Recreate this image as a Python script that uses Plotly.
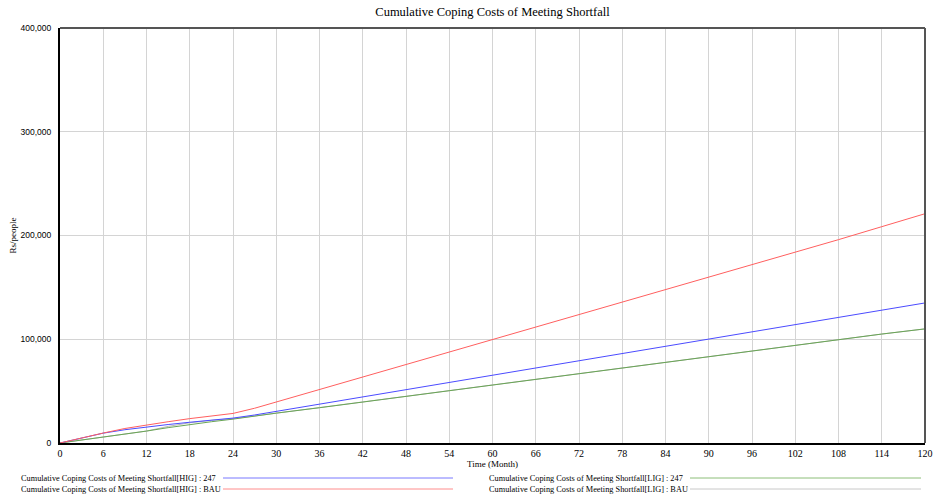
import plotly.graph_objects as go

months = [0, 3, 6, 9, 12, 15, 18, 21, 24, 27, 30, 36, 42, 48, 54, 60, 66, 72, 78, 84, 90, 96, 102, 108, 114, 120]

hig_247 = [0, 5000, 9500, 12800, 15500, 17800, 20000, 22000, 24000, 27000, 30500, 37500, 44500, 51500,
           58500, 65500, 72500, 79000, 86000, 93000, 100000, 107000, 114000, 121000, 128000, 135000]
hig_bau = [0, 5000, 9600, 14000, 17500, 20500, 23500, 26000, 28500, 33500, 39500, 51500, 63500, 75500,
           87500, 99500, 111500, 123500, 135500, 147500, 159500, 171500, 184000, 196000, 208500, 221000]
lig_247 = [0, 2800, 5600, 8500, 11500, 14800, 18000, 20500, 23000, 26000, 28800, 34000, 39500, 45000,
           50500, 56000, 61500, 67000, 72500, 78000, 83500, 89000, 94500, 99500, 105000, 110000]
lig_bau = [0, 2800, 5600, 8500, 11500, 16000, 19500, 21800, 23500, 26000, 28800, 34000, 39500, 45000,
           50500, 56000, 61500, 67000, 72500, 78000, 83500, 89000, 94500, 99500, 105000, 110000]

names = ["Cumulative Coping Costs of Meeting Shortfall[HIG] : 247",
         "Cumulative Coping Costs of Meeting Shortfall[HIG] : BAU",
         "Cumulative Coping Costs of Meeting Shortfall[LIG] : 247",
         "Cumulative Coping Costs of Meeting Shortfall[LIG] : BAU"]
colors = ["rgb(75,75,255)", "rgb(255,95,95)", "rgb(105,165,85)", "rgb(185,185,185)"]
legend_colors = ["rgb(120,120,255)", "rgb(255,140,140)", "rgb(140,190,120)", "rgb(200,200,200)"]
series = [hig_247, hig_bau, lig_247, lig_bau]

x_ticks = list(range(0, 121, 6))
y_ticks = [0, 100000, 200000, 300000, 400000]

fig = go.Figure()
# draw grey (LIG BAU) first so it sits underneath
for idx in [3, 2, 0, 1]:
    fig.add_trace(go.Scatter(x=months, y=series[idx], mode="lines", name=names[idx],
                             line=dict(color=colors[idx], width=1), showlegend=False))

serif = "Liberation Serif, Times New Roman, serif"
sans = "Liberation Sans, Arial, sans-serif"

W, H = 933, 498
pl, pr, pt, pb = 60, 8, 28, 55

fig.update_layout(
    width=W, height=H,
    margin=dict(l=pl, r=pr, t=pt, b=pb, autoexpand=False),
    paper_bgcolor="white", plot_bgcolor="white",
    title=dict(text="Cumulative Coping Costs of Meeting Shortfall", x=0.5, xanchor="center",
               xref="paper", y=1 - 12 / H, yanchor="middle",
               font=dict(family=serif, size=12.5, color="black")),
    xaxis=dict(range=[0, 120], tickvals=x_ticks, ticktext=[str(v) for v in x_ticks],
               showgrid=True, gridcolor="#d4d4d4", gridwidth=1, zeroline=False,
               showline=True, linecolor="black", linewidth=2, ticks="", automargin=False,
               tickfont=dict(family=serif, size=10, color="black"),
               title=dict(text="Time (Month)", font=dict(family=serif, size=9, color="black"), standoff=0)),
    yaxis=dict(range=[0, 400000], tickvals=y_ticks, ticktext=[f"{v:,}" for v in y_ticks],
               showgrid=True, gridcolor="#d4d4d4", gridwidth=1, zeroline=False,
               showline=True, linecolor="black", linewidth=2, ticks="", automargin=False,
               ticklabelstandoff=5,
               tickfont=dict(family=sans, size=8.5, color="black"),
               title=dict(text="Rs/people", font=dict(family=serif, size=9, color="black"), standoff=2)),
    showlegend=False,
)

# top/right frame
fig.add_shape(type="line", xref="paper", yref="paper", x0=0, x1=1, y0=1, y1=1,
              line=dict(color="#555555", width=2))
fig.add_shape(type="line", xref="paper", yref="paper", x0=1, x1=1, y0=0, y1=1,
              line=dict(color="#555555", width=2))

# custom legend: text followed by a line sample
pw, ph = W - pl - pr, H - pt - pb
def px(x):
    return (x - pl) / pw
def py(y):
    return (H - pb - y) / ph

legend_pos = [(19, 478, 223, 453), (19, 489, 223, 453), (487, 478, 690, 921), (487, 489, 690, 921)]
for i, (tx, ty, lx0, lx1) in enumerate(legend_pos):
    fig.add_annotation(text=names[i], xref="paper", yref="paper", x=px(tx), y=py(ty),
                       xanchor="left", yanchor="middle", showarrow=False,
                       font=dict(family=serif, size=8.3, color="black"))
    fig.add_shape(type="line", xref="paper", yref="paper", x0=px(lx0), x1=px(lx1),
                  y0=py(ty), y1=py(ty), line=dict(color=legend_colors[i], width=1))

fig.write_html("out.html", config={"displayModeBar": False},
               post_script="document.body.style.margin='0';document.body.style.overflow='hidden';")
